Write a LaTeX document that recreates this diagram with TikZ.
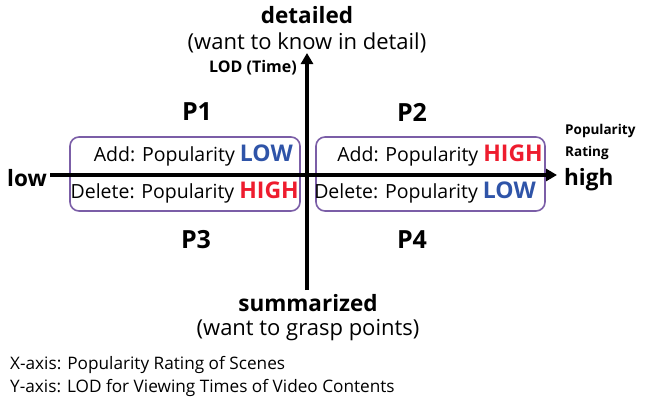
\documentclass[tikz,border=0pt]{standalone}
\usepackage{fontspec}
\setmainfont{Open Sans}
\usetikzlibrary{arrows.meta}
\definecolor{boxpurple}{HTML}{7B5EA7}
\definecolor{lowblue}{HTML}{2F54A8}
\definecolor{highred}{HTML}{EE1C2E}
\tikzstyle{axis} = [line width=3.6pt, -{Triangle[length=11pt,width=12pt]}]
\tikzstyle{quadbox} = [draw=boxpurple, line width=1.6pt, rounded corners=9pt]
\tikzstyle{quadname} = [font=\fontsize{25}{27}\selectfont\bfseries]
\tikzstyle{note} = [font=\fontsize{22}{24}\selectfont, inner sep=0pt]
\tikzstyle{rule} = [font=\fontsize{19.5}{22}\selectfont, inner sep=0pt]
\tikzstyle{endlabel} = [font=\fontsize{22.5}{25}\selectfont\bfseries, inner sep=0pt]
\tikzstyle{small} = [font=\fontsize{13.5}{15}\selectfont\bfseries, inner sep=0pt]
\tikzstyle{caption} = [font=\fontsize{17.2}{19}\selectfont, inner sep=0pt, anchor=west]
\newcommand{\lowword}{\textcolor{lowblue}{\fontsize{23}{24}\selectfont\bfseries LOW}}
\newcommand{\highword}{\textcolor{highred}{\fontsize{23}{24}\selectfont\bfseries HIGH}}

\begin{document}
\begin{tikzpicture}[x=1pt,y=-1pt]
                \useasboundingbox (0,0) rectangle (649,402);
                % quadrant boxes
                \draw[quadbox] (70,137) rectangle (300,211);
                \draw[quadbox] (316,137) rectangle (545,211);
                % axes
                \coordinate (xstart) at (50,175);
                \coordinate (xend) at (557,175);
                \coordinate (ystart) at (307,290);
                \coordinate (yend) at (307,53);
                \draw[axis] (xstart) -- (xend);
                \draw[axis] (ystart) -- (yend);
                % axis ends
                \node[endlabel] (top) at (307,15) {detailed};
                \node[note] (topnote) at (307,43) {(want to know in detail)};
                \node[small, font=\fontsize{16}{18}\selectfont\bfseries, anchor=east] (ylabel) at (297,68) {LOD (Time)};
                \node[endlabel, anchor=east] (low) at (47,178) {low};
                \node[endlabel, anchor=west] (high) at (564,180) {high};
                \node[small, anchor=west] (xlabel) at (565,131) {Popularity};
                \node[small, anchor=west] (xlabel2) at (565,153) {Rating};
                \node[endlabel] (bottom) at (308,303) {summarized};
                \node[note] (bottomnote) at (308,330) {(want to grasp points)};
                % quadrant names
                \node[quadname] (p1) at (197,112) {P1};
                \node[quadname] (p2) at (412,112) {P2};
                \node[quadname] (p3) at (196,240) {P3};
                \node[quadname] (p4) at (412,240) {P4};
                % rules
                \node[rule, anchor=east] (add1) at (293,156) {Add: Popularity \lowword};
                \node[rule, anchor=east] (del1) at (299,193) {Delete: Popularity \highword};
                \node[rule, anchor=east] (add2) at (543,156) {Add: Popularity \highword};
                \node[rule, anchor=east] (del2) at (536,193) {Delete: Popularity \lowword};
                % caption
                \node[caption] (cap1) at (10,365) {X-axis: Popularity Rating of Scenes};
                \node[caption] (cap2) at (10,388) {Y-axis: LOD for Viewing Times of Video Contents};
            \end{tikzpicture}
\end{document}
